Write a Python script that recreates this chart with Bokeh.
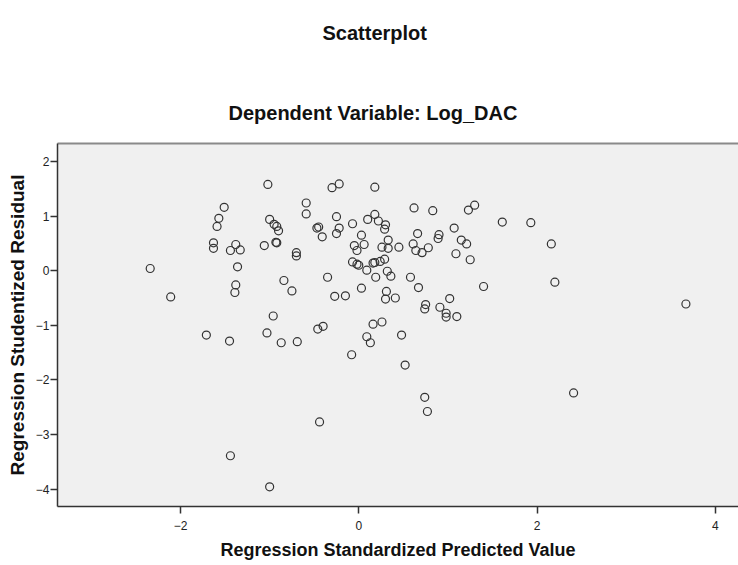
from bokeh.plotting import figure
from bokeh.models import Range1d, LinearAxis, FixedTicker, Title
from bokeh.embed import file_html
from bokeh.resources import INLINE

title_main = "Scatterplot"
title_sub = "Dependent Variable: Log_DAC"
x_label = "Regression Standardized Predicted Value"
y_label = "Regression Studentized Residual"

x_ticks = [-2, 0, 2, 4]
y_ticks = [-4, -3, -2, -1, 0, 1, 2]

pred = [-2.34, -2.11, -1.51, -1.57, -1.59, -1.63, -1.63, -1.38, -1.44, -1.33,
        -1.36, -1.38, -1.39, -1.02, -1.00, -0.95, -0.92, -0.90, -1.06, -0.93,
        -0.92, -0.70, -0.70, -0.84, -0.75, -0.96, -1.71, -1.03, -1.45, -0.87,
        -0.69, -1.44, -1.00, -0.30, -0.22, 0.18, -0.59, -0.59, -0.25, -0.47,
        -0.45, -0.41, -0.22, -0.25, -0.07, 0.10, 0.18, 0.22, 0.30, 0.29,
        0.03, 0.33, -0.05, 0.06, -0.02, 0.26, 0.33, 0.45, -0.07, -0.02,
        0.00, 0.16, 0.18, 0.24, 0.29, 0.09, 0.19, 0.32, 0.36, -0.35,
        0.03, -0.27, -0.15, 0.31, 0.30, 0.41, 0.58, 0.67, 0.62, 0.83,
        0.66, 0.61, 0.64, 0.71, 0.78, 0.90, 0.89, 1.07, 1.15, 1.21,
        1.09, 1.25, 1.23, 1.30, 1.61, 1.93, 1.40, 0.75, 0.74, 0.91,
        1.02, 0.98, 0.98, 1.10, -0.46, -0.40, 0.16, 0.26, 0.48, 0.09,
        0.13, -0.08, 0.52, 0.74, 0.77, -0.44, 2.16, 2.20, 3.67, 2.41]

resid = [0.04, -0.48, 1.16, 0.96, 0.81, 0.51, 0.41, 0.48, 0.37, 0.38,
         0.07, -0.26, -0.40, 1.58, 0.94, 0.85, 0.81, 0.73, 0.46, 0.52,
         0.51, 0.33, 0.27, -0.18, -0.37, -0.83, -1.18, -1.14, -1.29, -1.32,
         -1.30, -3.39, -3.96, 1.52, 1.59, 1.53, 1.24, 1.04, 0.99, 0.78,
         0.80, 0.62, 0.78, 0.68, 0.86, 0.94, 1.03, 0.91, 0.84, 0.76,
         0.65, 0.56, 0.46, 0.48, 0.37, 0.43, 0.41, 0.43, 0.16, 0.12,
         0.10, 0.14, 0.15, 0.17, 0.21, 0.01, -0.12, -0.01, -0.10, -0.12,
         -0.32, -0.47, -0.46, -0.38, -0.52, -0.50, -0.12, -0.31, 1.15, 1.10,
         0.68, 0.49, 0.37, 0.33, 0.42, 0.66, 0.59, 0.78, 0.56, 0.49,
         0.31, 0.20, 1.11, 1.20, 0.89, 0.88, -0.29, -0.62, -0.70, -0.67,
         -0.51, -0.78, -0.85, -0.84, -1.07, -1.02, -0.98, -0.94, -1.18, -1.21,
         -1.32, -1.54, -1.73, -2.32, -2.58, -2.77, 0.49, -0.21, -0.61, -2.24]

FONT = "Liberation Sans"

p = figure(width=738, height=565, output_backend="svg", toolbar_location=None,
           x_range=Range1d(-3.38, 4.26), y_range=Range1d(-4.32, 2.33),
           min_border_left=57, min_border_right=0, min_border_top=143,
           min_border_bottom=59)
p.background_fill_color = "#f0f0f0"
p.border_fill_color = "white"
p.outline_line_color = None
p.xgrid.visible = False
p.ygrid.visible = False

for ax, ticks in ((p.xaxis[0], x_ticks), (p.yaxis[0], y_ticks)):
    ax.ticker = FixedTicker(ticks=ticks)
    ax.minor_tick_line_color = None
    ax.major_tick_in = 0
    ax.major_tick_out = 7
    ax.major_tick_line_color = "#333333"
    ax.major_tick_line_width = 1.5
    ax.axis_line_color = "#333333"
    ax.axis_line_width = 1.5
    ax.major_label_text_font = FONT
    ax.major_label_text_font_size = "12px"
    ax.major_label_text_color = "#222222"
    ax.axis_label_text_font = FONT
    ax.axis_label_text_font_style = "bold"
    ax.axis_label_text_color = "#111111"

p.xaxis.axis_label_text_font_size = "18px"
p.yaxis.axis_label_text_font_size = "19px"
p.xaxis.major_label_standoff = 7
p.yaxis.major_label_standoff = 1
p.xaxis.axis_label = x_label
p.xaxis.axis_label_standoff = 7
p.yaxis.axis_label = y_label
p.yaxis.axis_label_standoff = 5

top = LinearAxis(ticker=FixedTicker(ticks=[]), axis_line_color="#8a8a8a",
                 axis_line_width=2, major_tick_line_color=None,
                 minor_tick_line_color=None, major_tick_out=0,
                 major_label_standoff=0)
p.add_layout(top, "above")

p.scatter(pred, resid, marker="circle", size=8, fill_color=None,
          line_color="#333333", line_width=1.2)

sub = Title(text=title_sub, align="left", offset=171, vertical_align="middle",
            standoff=37, text_font=FONT, text_font_size="20px",
            text_font_style="bold", text_color="#111111")
p.add_layout(sub, "above")
spacer = Title(text=" ", align="left", vertical_align="middle", standoff=11,
               text_font=FONT, text_font_size="18px")
p.add_layout(spacer, "above")
main = Title(text=title_main, align="left", offset=265, vertical_align="middle",
             standoff=10, text_font=FONT, text_font_size="20px",
             text_font_style="bold", text_color="#111111")
p.add_layout(main, "above")

open("out.html", "w").write(file_html(p, INLINE))
